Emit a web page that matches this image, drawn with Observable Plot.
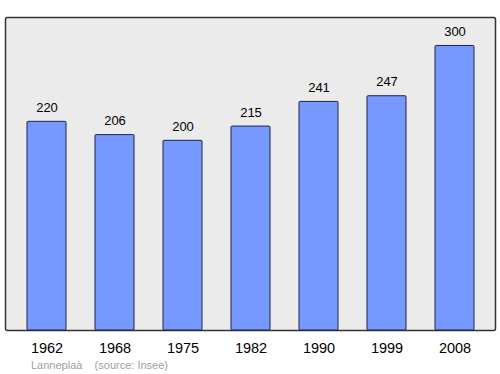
<!DOCTYPE html>
<html>
<head>
<meta charset="utf-8">
<script src="https://cdn.jsdelivr.net/npm/d3@7"></script>
<script src="https://cdn.jsdelivr.net/npm/@observablehq/plot@0.6"></script>
<style>
  html, body { margin: 0; padding: 0; background: #fff; }
  #chart { width: 500px; }
  #caption { font-family: "Liberation Sans", Arial, sans-serif; font-size: 11px; color: #a0a0a0; height: 18px; line-height: 18px; padding-left: 31px; white-space: pre; }
</style>
</head>
<body>
<div id="chart"></div>
<div id="caption">Lanneplaà    (source: Insee)</div>
<script>
const years = ["1962", "1968", "1975", "1982", "1990", "1999", "2008"];
const populations = [220, 206, 200, 215, 241, 247, 300];

const data = years.map((y, i) => ({year: y, pop: populations[i]}));

const chart = Plot.plot({
  width: 500,
  height: 356,
  marginLeft: 5,
  marginRight: 5,
  marginTop: 17,
  marginBottom: 26,
  style: {fontFamily: "Liberation Sans, Arial, sans-serif", fontSize: "14.5px", background: "white", color: "#000"},
  x: {domain: years, paddingInner: 0.43, paddingOuter: 0.3, label: null, axis: null},
  y: {domain: [0, 330], axis: null},
  marks: [
    Plot.frame({fill: "#ebebeb", stroke: "#333", strokeWidth: 1.5, rx: 2}),
    Plot.barY(data, {x: "year", y: "pop", fill: "#7799ff", stroke: "#1f2347", strokeWidth: 1, rx: 1}),
    Plot.text(data, {x: "year", y: "pop", text: d => String(d.pop), dy: -14, fontSize: 13, fill: "#000"}),
    Plot.axisX({tickSize: 0, tickPadding: 12, fontSize: 14.5, label: null, fill: "#000"})
  ]
});
document.getElementById("chart").appendChild(chart);
</script>
</body>
</html>
